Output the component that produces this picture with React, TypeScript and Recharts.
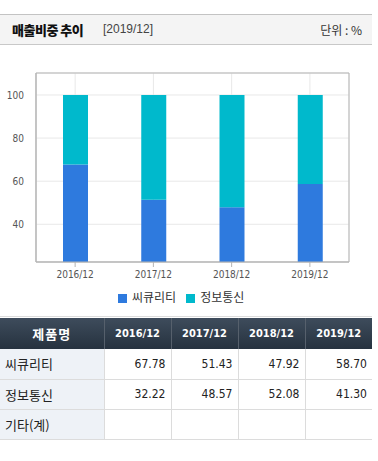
import React from 'react';
import { BarChart, Bar, XAxis, YAxis, CartesianGrid, Legend, ReferenceArea } from 'recharts';

const periods = ['2016/12', '2017/12', '2018/12', '2019/12'];
const security = [67.78, 51.43, 47.92, 58.7];
const infoComm = [32.22, 48.57, 52.08, 41.3];
const yTicks = [40, 60, 80, 100];
const yDomain = [22.5, 110.2];

const chartData = periods.map((p, i) => ({
  period: p,
  security: security[i],
  infoComm: infoComm[i],
}));

const krFont = '"Noto Sans CJK KR", "Noto Sans", sans-serif';
const numFont = '"DejaVu Sans Condensed", "DejaVu Sans", sans-serif';

const cellBorder = '1px solid #dcdcdc';

export default function App() {
  return (
    <div style={{ position: 'absolute', left: 0, top: 0, width: 378, height: 461, background: '#fff', fontFamily: krFont }}>
      {/* header strip */}
      <div
        style={{
          position: 'absolute',
          top: 14,
          left: 0,
          width: 372,
          height: 29,
          background: '#f4f4f4',
          borderTop: '1px solid #c3c3c3',
          borderBottom: '1px solid #c8c8c8',
        }}
      >
        <span style={{ position: 'absolute', left: 12, top: 5, fontSize: 13, fontWeight: 900, color: '#111', letterSpacing: -0.5 }}>매출비중 추이</span>
        <span style={{ position: 'absolute', left: 103, top: 7, fontSize: 12, color: '#444', fontFamily: '"Liberation Sans", sans-serif' }}>[2019/12]</span>
        <span style={{ position: 'absolute', right: 10, top: 6, fontSize: 12, color: '#333' }}>단위 : %</span>
      </div>

      <div style={{ position: 'absolute', top: 44, left: 0 }}>
        <BarChart width={372} height={266} data={chartData} margin={{ top: 29, right: 23, left: 0, bottom: 0 }}>
          <CartesianGrid stroke="#e8e8e8" />
          <XAxis
            dataKey="period"
            axisLine={{ stroke: '#b5b5b5' }}
            tickLine={{ stroke: '#b5b5b5' }}
            tickSize={5}
            tickMargin={4}
            height={26}
            tick={{ fontSize: 10, fill: '#555', fontFamily: numFont }}
          />
          <YAxis
            domain={yDomain}
            ticks={yTicks}
            allowDataOverflow
            width={36}
            axisLine={{ stroke: '#b5b5b5' }}
            tickLine={false}
            tickMargin={6}
            tick={{ fontSize: 10, fill: '#555', fontFamily: numFont }}
          />
          <ReferenceArea y1={yDomain[0]} y2={yDomain[1]} fill="none" stroke="#b5b5b5" ifOverflow="visible" />
          <Bar dataKey="security" name="씨큐리티" stackId="a" fill="#2e7ade" barSize={25} isAnimationActive={false} />
          <Bar dataKey="infoComm" name="정보통신" stackId="a" fill="#00b9cc" barSize={25} isAnimationActive={false} />
          <Legend
            iconType="square"
            iconSize={9}
            height={22}
            align="left"
            wrapperStyle={{ left: 118, width: 220, fontSize: 12, color: '#333', fontFamily: krFont }}
            formatter={(v: string) => <span style={{ color: '#333', marginLeft: 1 }}>{v}</span>}
          />
        </BarChart>
      </div>

      {/* data table */}
      <div style={{ position: 'absolute', top: 316, left: 0, width: 372, borderTop: '1px solid #dcdcdc' }}>
        <table style={{ borderCollapse: 'collapse', width: 372, tableLayout: 'fixed', marginTop: 1 }}>
          <colgroup>
            <col style={{ width: 104 }} />
            <col style={{ width: 67 }} />
            <col style={{ width: 67 }} />
            <col style={{ width: 67 }} />
            <col style={{ width: 67 }} />
          </colgroup>
          <thead>
            <tr style={{ height: 31, background: 'linear-gradient(#3e4c5c, #26323f)' }}>
              <th style={{ color: '#fff', fontSize: 13, fontWeight: 700, fontFamily: krFont, borderRight: '1px solid #56606c', padding: 0, letterSpacing: 1 }}>제품명</th>
              {periods.map((p, i) => (
                <th
                  key={p}
                  style={{
                    color: '#fff',
                    fontSize: 11,
                    fontWeight: 700,
                    fontFamily: numFont,
                    borderRight: i < periods.length - 1 ? '1px solid #56606c' : 'none',
                    padding: 0,
                  }}
                >
                  {p}
                </th>
              ))}
            </tr>
          </thead>
          <tbody>
            {[
              { label: '씨큐리티', values: security },
              { label: '정보통신', values: infoComm },
              { label: '기타(계)', values: [] as number[] },
            ].map((row) => (
              <tr key={row.label} style={{ height: 30 }}>
                <td
                  style={{
                    background: '#eef2f7',
                    fontSize: 13,
                    color: '#222',
                    paddingLeft: 5,
                    borderBottom: cellBorder,
                    borderRight: cellBorder,
                  }}
                >
                  {row.label}
                </td>
                {periods.map((p, i) => (
                  <td
                    key={p}
                    style={{
                      textAlign: 'right',
                      fontSize: 12,
                      color: '#222',
                      fontFamily: numFont,
                      paddingRight: 5,
                      borderBottom: cellBorder,
                      borderRight: i < periods.length - 1 ? cellBorder : 'none',
                    }}
                  >
                    {row.values[i] !== undefined ? row.values[i].toFixed(2) : ''}
                  </td>
                ))}
              </tr>
            ))}
          </tbody>
        </table>
      </div>
    </div>
  );
}
